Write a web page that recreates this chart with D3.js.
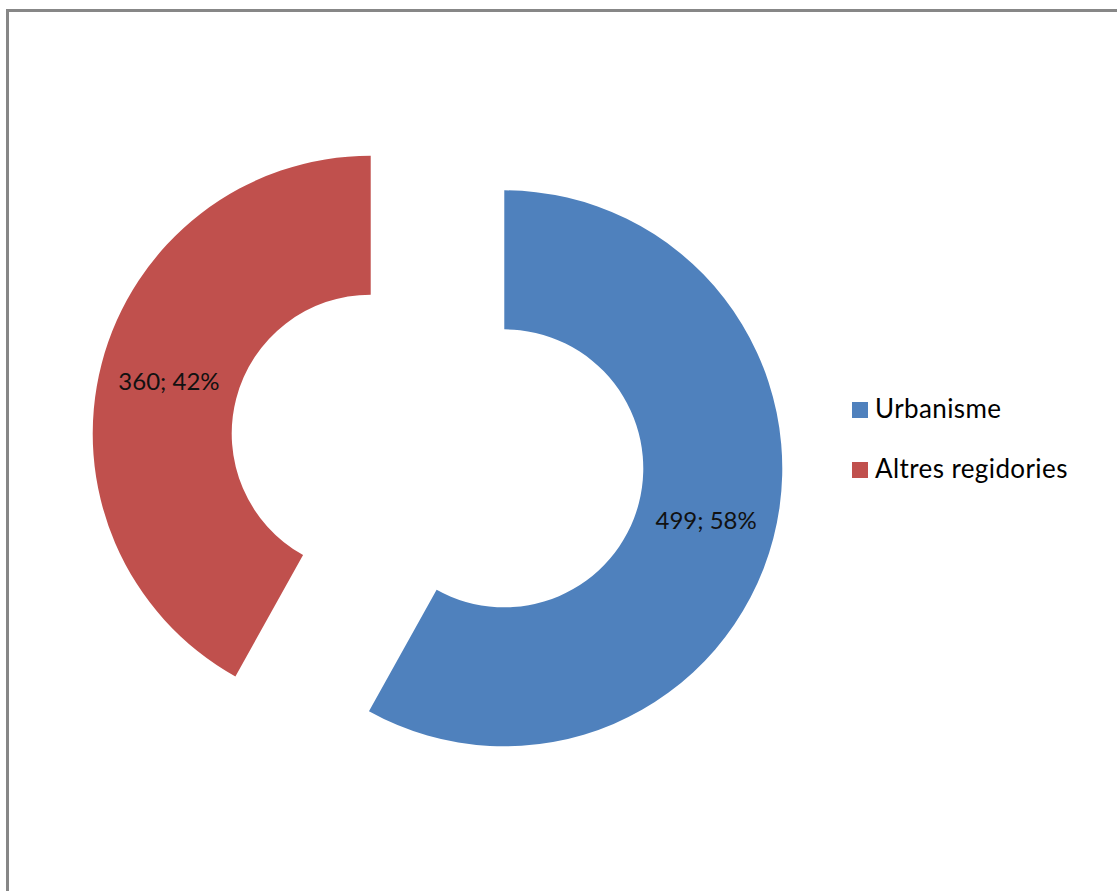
<!DOCTYPE html>
<html>
<head>
<meta charset="utf-8">
<script src="https://cdn.jsdelivr.net/npm/d3@7"></script>
<style>
  body { margin: 0; background: #fff; }
  svg { display: block; }
</style>
</head>
<body>
<div id="chart"></div>
<script>
const w = 1117;
const h = 891;

// data
const categories = ['Urbanisme', 'Altres regidories'];
const values = [499, 360];
const percents = ['58%', '42%'];
const colors = ['#4F81BD', '#C0504D'];

const cx = 437.5, cy = 451;
const outerR = 278, innerR = 139;
const explode = 69;

const svg = d3.select('#chart').
append('svg').
attr('width', w).
attr('height', h);

// chart frame
svg.append('rect').
attr('x', 7.5).
attr('y', 10.5).
attr('width', w + 20).
attr('height', h + 20).
attr('fill', 'none').
attr('stroke', '#878787').
attr('stroke-width', 3);

const pie = d3.pie().sort(null)(values);
const arc = d3.arc().innerRadius(innerR).outerRadius(outerR);

const g = svg.append('g').attr('transform', 'translate(' + cx + ',' + cy + ')');

const slices = g.selectAll('g.slice').
data(pie).
enter().
append('g').
attr('class', 'slice').
attr('transform', d => {
  const a = (d.startAngle + d.endAngle) / 2;
  return 'translate(' + explode * Math.sin(a) + ',' + -explode * Math.cos(a) + ')';
});

slices.append('path').
attr('d', arc).
attr('fill', (d, i) => colors[i]);

slices.append('text').
attr('transform', d => 'translate(' + arc.centroid(d) + ')').
attr('dy', '0.36em').
attr('text-anchor', 'middle').
style('font-family', 'Lato, sans-serif').
style('font-size', '24px').
attr('fill', '#111').
text((d, i) => values[i] + '; ' + percents[i]);

// legend
const legend = svg.append('g').attr('transform', 'translate(852,402)');
const items = legend.selectAll('g').
data(categories).
enter().
append('g').
attr('transform', (d, i) => 'translate(0,' + i * 60 + ')');

items.append('rect').
attr('width', 16).
attr('height', 16).
attr('fill', (d, i) => colors[i]);

items.append('text').
attr('x', 23).
attr('y', 15.5).
style('font-family', 'Lato, sans-serif').
style('font-size', '26px').
style('letter-spacing', '0.4px').
attr('fill', '#000').
text(d => d);
</script>
</body>
</html>
